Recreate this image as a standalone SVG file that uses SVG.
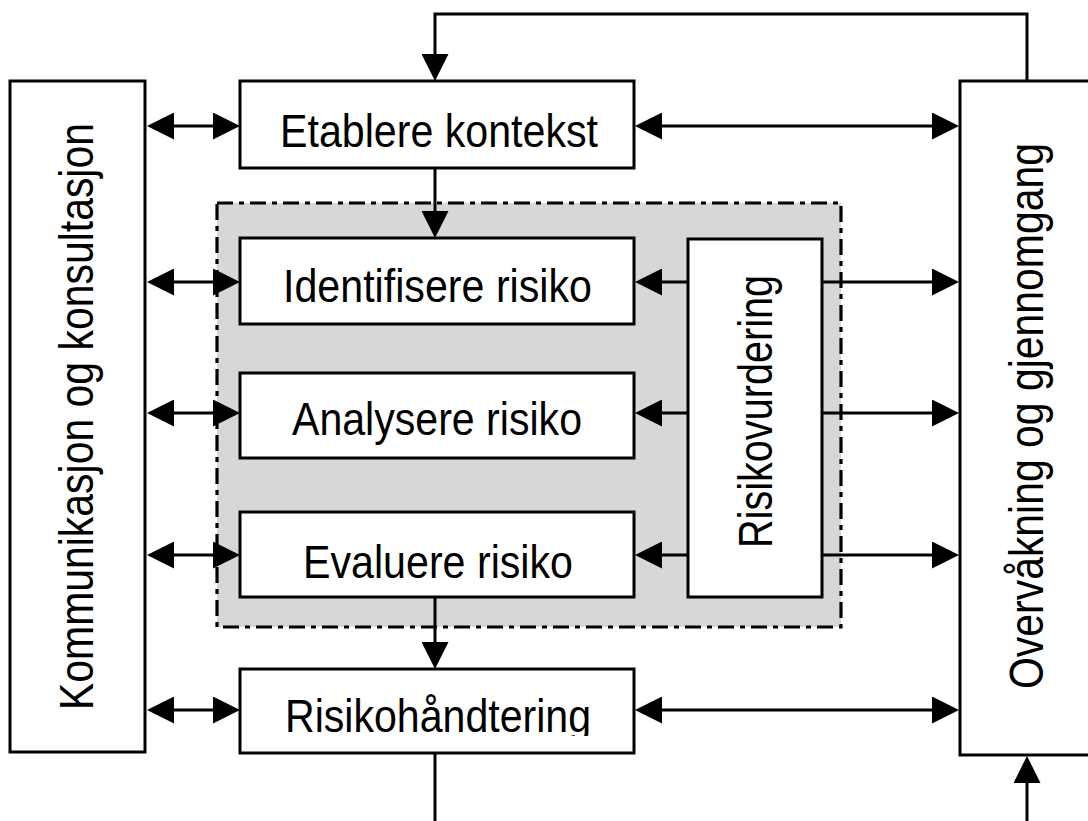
<svg xmlns="http://www.w3.org/2000/svg" width="1088" height="821" viewBox="0 0 1088 821">
  <style>
    .box { fill: #ffffff; stroke: #000000; stroke-width: 3; }
    .zone { fill: #d7d7d7; stroke: #000000; stroke-width: 3.2; stroke-dasharray: 16 6 5 6; }
    .lbl { font-family: "Liberation Sans", Arial, sans-serif; font-size: 47px; fill: #000000; text-anchor: middle; }
    .vlbl { font-family: "Liberation Sans", Arial, sans-serif; font-size: 48px; fill: #000000; text-anchor: middle; }
    .ln { fill: none; stroke: #000000; stroke-width: 3; }
    .one { marker-end: url(#head); }
    .two { marker-start: url(#head); marker-end: url(#head); }
  </style>
  <defs>
    <marker id="head" markerUnits="userSpaceOnUse" markerWidth="27" markerHeight="27" refX="17" refY="13.5" orient="auto-start-reverse">
      <path d="M0,0 L27,13.5 L0,27 Z" fill="#000000"/>
    </marker>
    <clipPath id="clipHandling">
      <rect x="240" y="669" width="394" height="67"/>
    </clipPath>
  </defs>

  <rect width="1088" height="821" fill="#ffffff"/>

  <!-- risk assessment zone -->
  <g id="zone-risikovurdering">
    <rect class="zone" x="217" y="203" width="624" height="424"/>
  </g>

  <!-- connectors -->
  <g id="connectors">
    <!-- communication column links -->
    <line class="ln two" x1="157" y1="126" x2="230" y2="126"/>
    <line class="ln two" x1="157" y1="282" x2="230" y2="282"/>
    <line class="ln two" x1="157" y1="413" x2="230" y2="413"/>
    <line class="ln two" x1="157" y1="555" x2="230" y2="555"/>
    <line class="ln two" x1="157" y1="710" x2="230" y2="710"/>
    <!-- monitoring column links -->
    <line class="ln two" x1="645" y1="126" x2="949" y2="126"/>
    <line class="ln two" x1="645" y1="710" x2="949" y2="710"/>
    <!-- assessment to steps -->
    <line class="ln one" x1="688" y1="282" x2="645" y2="282"/>
    <line class="ln one" x1="688" y1="413" x2="645" y2="413"/>
    <line class="ln one" x1="688" y1="555" x2="645" y2="555"/>
    <!-- assessment to monitoring -->
    <line class="ln one" x1="822" y1="282" x2="949" y2="282"/>
    <line class="ln one" x1="822" y1="413" x2="949" y2="413"/>
    <line class="ln one" x1="822" y1="555" x2="949" y2="555"/>
    <!-- main flow -->
    <line class="ln one" x1="435" y1="168" x2="435" y2="228"/>
    <line class="ln one" x1="435" y1="597" x2="435" y2="659"/>
    <line class="ln" x1="435" y1="753" x2="435" y2="825"/>
    <line class="ln one" x1="1027" y1="825" x2="1027" y2="766"/>
    <!-- feedback loop over the top -->
    <path class="ln one" d="M1027,81 L1027,14 L435,14 L435,71"/>
  </g>

  <g id="kommunikasjon">
    <rect class="box" x="10" y="81" width="135" height="671"/>
    <text class="vlbl" transform="translate(93,416.5) rotate(-90)" textLength="587" lengthAdjust="spacingAndGlyphs">Kommunikasjon og konsultasjon</text>
  </g>

  <g id="overvaakning">
    <rect class="box" x="960" y="81" width="140" height="674"/>
    <text class="vlbl" transform="translate(1043,416) rotate(-90)" textLength="546" lengthAdjust="spacingAndGlyphs">Overvåkning og gjennomgang</text>
  </g>

  <g id="etablere">
    <rect class="box" x="240" y="81" width="394" height="87"/>
    <text class="lbl" x="439" y="147" textLength="318" lengthAdjust="spacingAndGlyphs">Etablere kontekst</text>
  </g>

  <g id="identifisere">
    <rect class="box" x="240" y="238" width="394" height="86"/>
    <text class="lbl" x="437.5" y="302" textLength="309" lengthAdjust="spacingAndGlyphs">Identifisere risiko</text>
  </g>

  <g id="analysere">
    <rect class="box" x="240" y="373" width="394" height="85"/>
    <text class="lbl" x="437" y="435" textLength="290" lengthAdjust="spacingAndGlyphs">Analysere risiko</text>
  </g>

  <g id="evaluere">
    <rect class="box" x="240" y="512" width="394" height="85"/>
    <text class="lbl" x="438" y="578" textLength="270" lengthAdjust="spacingAndGlyphs">Evaluere risiko</text>
  </g>

  <g id="risikovurdering">
    <rect class="box" x="688" y="239" width="134" height="358"/>
    <text class="vlbl" transform="translate(772,411.5) rotate(-90)" textLength="273" lengthAdjust="spacingAndGlyphs">Risikovurdering</text>
  </g>

  <g id="risikohaandtering">
    <rect class="box" x="240" y="669" width="394" height="84"/>
    <text class="lbl" x="438" y="732" textLength="306" lengthAdjust="spacingAndGlyphs" clip-path="url(#clipHandling)">Risikohåndtering</text>
  </g>
</svg>
